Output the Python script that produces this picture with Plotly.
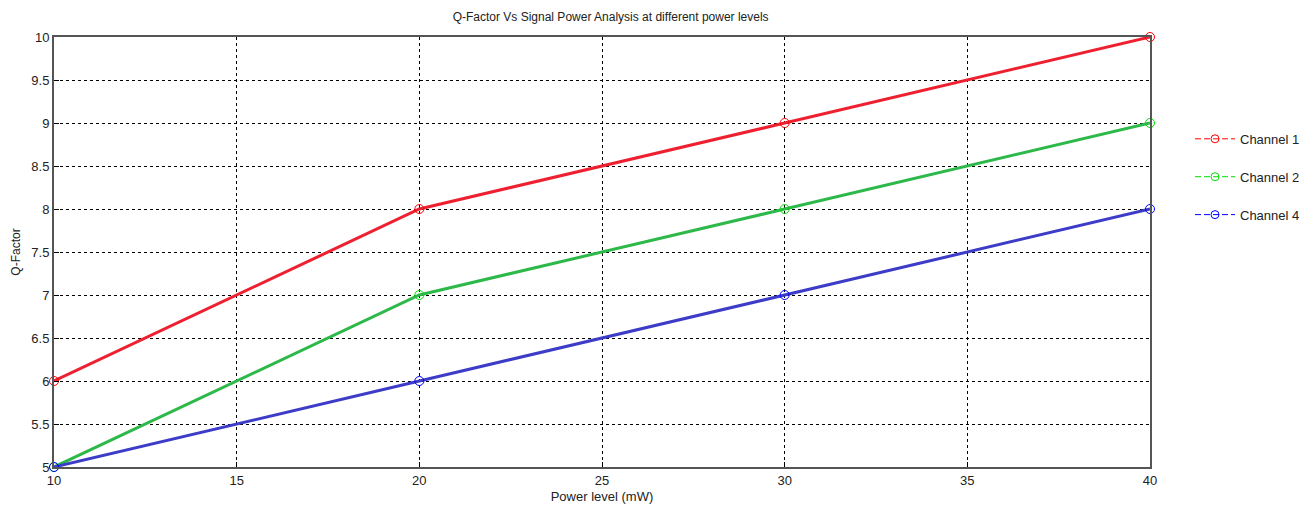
import plotly.graph_objects as go

power = [10, 20, 30, 40]
ch1 = [6, 8, 9, 10]
ch2 = [5, 7, 8, 9]
ch4 = [5, 6, 7, 8]
names = ["Channel 1", "Channel 2", "Channel 4"]
x_ticks = [10, 15, 20, 25, 30, 35, 40]
y_ticks = [5, 5.5, 6, 6.5, 7, 7.5, 8, 8.5, 9, 9.5, 10]

line_colors = ["#ee2030", "#2db84a", "#3c3cc8"]
mark_colors = ["#ff0000", "#00dd00", "#0000ff"]

fig = go.Figure()
for ys, nm, lc, mc in zip([ch1, ch2, ch4], names, line_colors, mark_colors):
    fig.add_trace(go.Scatter(x=power, y=ys, mode="lines", showlegend=False,
                             line=dict(color=lc, width=3), cliponaxis=False))
    fig.add_trace(go.Scatter(x=power, y=ys, mode="markers", showlegend=False,
                             marker=dict(symbol="circle-open", size=9, color=mc, line=dict(width=1)),
                             cliponaxis=False))
for nm, mc in zip(names, mark_colors):
    fig.add_trace(go.Scatter(x=[None], y=[None], mode="lines+markers", name=nm,
                             legendgroup=nm,
                             line=dict(color=mc, width=1, dash="6px,3px"),
                             marker=dict(symbol="circle-open", size=8, color=mc, line=dict(width=1))))

fig.update_layout(
    width=1296, height=496,
    margin=dict(l=46, r=154, t=29, b=37, autoexpand=False),
    paper_bgcolor="white", plot_bgcolor="white",
    font=dict(family="Liberation Sans, Arial", size=12, color="#222"),
    title=dict(text="Q-Factor Vs Signal Power Analysis at different power levels",
               x=0.465, xanchor="center", y=0.99, yanchor="top",
               font=dict(size=12)),
    legend=dict(x=1.0365, y=0.798, xanchor="left", yanchor="top",
                tracegroupgap=18, itemwidth=40, font=dict(size=13),
                bgcolor="rgba(0,0,0,0)"),
    showlegend=True,
)
fig.update_xaxes(range=[10, 40], tickvals=x_ticks, ticktext=[str(v) for v in x_ticks],
                 automargin=False,
                 showgrid=True, gridcolor="#000", griddash="3px,3px", gridwidth=1,
                 showline=True, linecolor="#555", linewidth=2, mirror=True,
                 ticks="inside", ticklen=5, tickcolor="#000",
                 zeroline=False, tickfont=dict(size=13),
                 title=dict(text="Power level (mW)", standoff=10, font=dict(size=13)))
fig.update_yaxes(range=[5, 10], tickvals=y_ticks, ticktext=[f"{v:g}" for v in y_ticks],
                 automargin=False,
                 showgrid=True, gridcolor="#000", griddash="3px,3px", gridwidth=1,
                 showline=True, linecolor="#555", linewidth=2, mirror=True,
                 ticks="inside", ticklen=5, tickcolor="#000",
                 zeroline=False, tickfont=dict(size=13),
                 title=dict(text="Q-Factor", standoff=8, font=dict(size=12)))

fig.write_html("out.html")
